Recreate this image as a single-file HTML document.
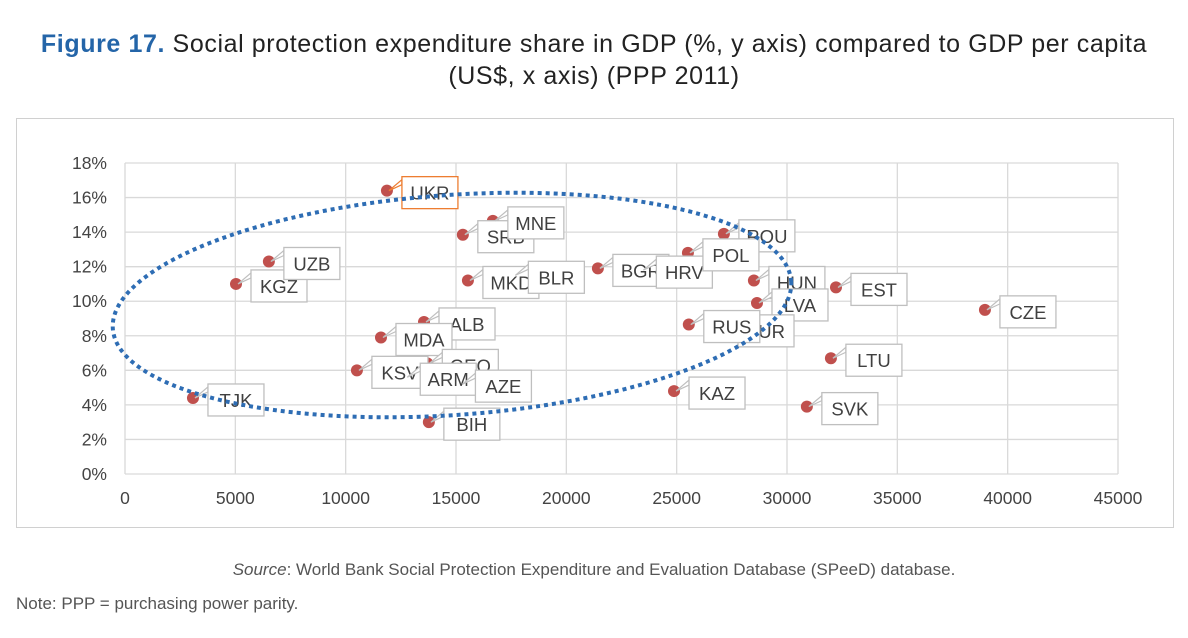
<!DOCTYPE html>
<html><head><meta charset="utf-8"><style>
body{margin:0;background:#fff;width:1188px;height:638px;overflow:hidden;font-family:"Liberation Sans",sans-serif;}
#title{position:absolute;left:0;width:1188px;top:28px;text-align:center;font-size:25px;line-height:32px;color:#222;letter-spacing:0.6px;}
#title b{color:#2465a8;}
#src{position:absolute;left:0;width:1188px;top:560px;text-align:center;font-size:17px;color:#555;}
#note{position:absolute;left:16px;top:594px;font-size:17px;color:#555;}
</style></head><body>
<div id="title"><b>Figure 17.</b> Social protection expenditure share in GDP (%, y axis) compared to GDP per capita<br>(US$, x axis) (PPP 2011)</div>
<svg id="chart" width="1188" height="638" style="position:absolute;left:0;top:0"></svg>
<div id="src"><i>Source</i>: World Bank Social Protection Expenditure and Evaluation Database (SPeeD) database.</div>
<div id="note">Note: PPP = purchasing power parity.</div>
<script>
const countries=["KGZ","UZB","TJK","ALB","MDA","KSV","GEO","ARM","AZE","BIH","SRB","MNE","MKD","BLR","BGR","HRV","ROU","POL","HUN","LVA","TUR","RUS","KAZ","EST","LTU","SVK","CZE","UKR"];
const gdpPerCapita=[5030,6520,3080,13550,11600,10510,13700,12700,15200,13770,15310,16670,15540,17600,21430,23400,27140,25510,28500,28640,27100,25550,24880,32220,31990,30900,38970,11870];
const spShare=[11.0,12.3,4.4,8.8,7.9,6.0,6.4,5.6,5.2,3.0,13.85,14.65,11.2,11.5,11.9,11.8,13.9,12.8,11.2,9.9,8.4,8.65,4.8,10.8,6.7,3.9,9.5,16.4];
const xTicks=[0,5000,10000,15000,20000,25000,30000,35000,40000,45000];
const yTicks=[0,2,4,6,8,10,12,14,16,18];
const NS="http://www.w3.org/2000/svg";
const svg=document.getElementById('chart');
const X=v=>125+v*(1118-125)/45000;
const Y=v=>474-v*(474-163)/18;
function mk(t,a,p){const e=document.createElementNS(NS,t);for(const k in a)e.setAttribute(k,a[k]);(p||svg).appendChild(e);return e;}
const frame=mk('rect',{x:16.5,y:118.5,width:1157,height:409,fill:'none',stroke:'#d0d0d0'});


yTicks.forEach(v=>{
 const l=mk('line',{x1:125,x2:1118,y1:Y(v),y2:Y(v),stroke:'#d9d9d9','stroke-width':1.3});
 
 
 const t=mk('text',{x:107,y:Y(v)+6,'text-anchor':'end','font-size':17.5,fill:'#444'});
 t.textContent=v+'%';
 
 
});
xTicks.forEach(v=>{
 const l=mk('line',{x1:X(v),x2:X(v),y1:Y(18),y2:Y(0),stroke:'#d9d9d9','stroke-width':1.3});
 
 
 const t=mk('text',{x:X(v),y:504,'text-anchor':'middle','font-size':17.5,fill:'#444'});
 t.textContent=v;
 
 
});
countries.forEach((c,i)=>{
 const cx=X(gdpPerCapita[i]),cy=Y(spShare[i]);
 const d=mk('circle',{cx:cx,cy:cy,r:6,fill:'#c0504d'});
 
 
});
countries.forEach((c,i)=>{
 const cx=X(gdpPerCapita[i]),cy=Y(spShare[i]);
 const g=mk('g',{});
 
 
 const col=c==='UKR'?'#ed7d31':'#bfbfbf';
 const bx=cx+15,by=cy-14,w=56,h=32;
 mk('path',{d:`M${bx},${by+8} L${cx+2},${cy} L${bx},${by+3} Z`,fill:'#fff',stroke:col,'stroke-width':1.2},g);
 mk('rect',{x:bx,y:by,width:w,height:h,fill:'#fff',stroke:col,'stroke-width':1.3},g);
 const t=mk('text',{x:bx+w/2,y:by+23,'text-anchor':'middle','font-size':18.5,fill:'#404040'},g);
 t.textContent=c;
});
const el=mk('ellipse',{cx:452,cy:305,rx:340,ry:110,transform:'rotate(-4 452 305)',fill:'none',stroke:'#2e6db4','stroke-width':4,'stroke-dasharray':'4 4'});


</script>
</body></html>
